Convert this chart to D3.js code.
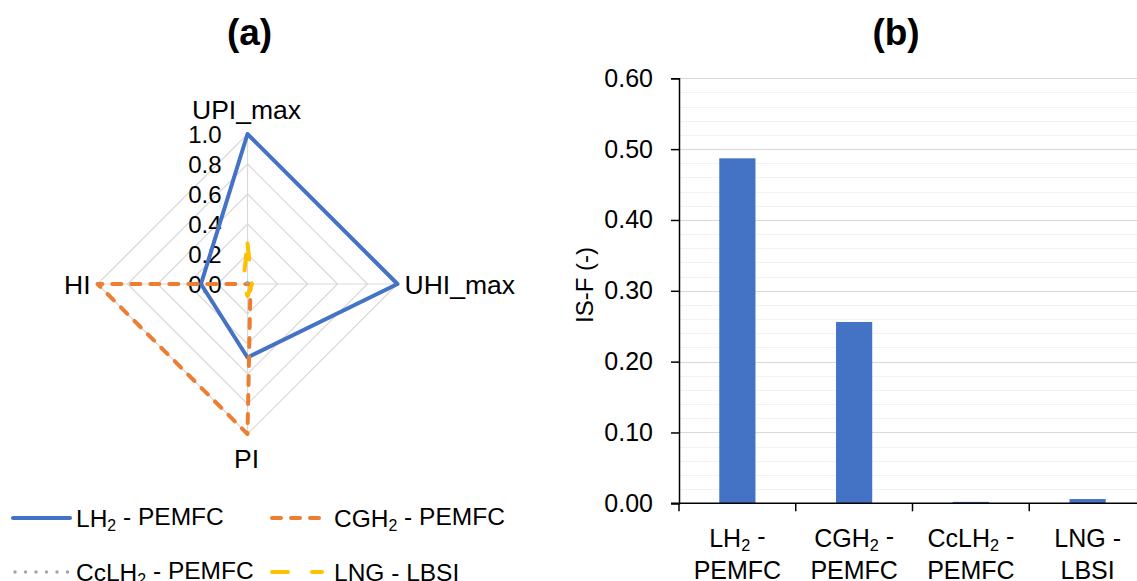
<!DOCTYPE html>
<html>
<head>
<meta charset="utf-8">
<script src="https://cdn.jsdelivr.net/npm/d3@7"></script>
<style>
  html, body {margin:0; padding:0; background:#fff;}
  svg {display:block; font-family:"Liberation Sans", Arial, sans-serif;}
</style>
</head>
<body>
<div id="fig"></div>
<script>
(function() {
"use strict";

var radarAxes = ["UPI_max", "UHI_max", "PI", "HI"];
var radarTicks = [0, 0.2, 0.4, 0.6, 0.8, 1.0];
var seriesNames = ["LH₂ - PEMFC", "CGH₂ - PEMFC", "CcLH₂ - PEMFC", "LNG - LBSI"];
var lh2Vals = [1.0, 1.0, 0.49, 0.31];
var cgh2Vals = [0.0, 0.02, 1.0, 1.0];
var cclh2Vals = [0.01, 0.01, 0.01, 0.01];
var lngVals = [0.27, 0.03, 0.08, 0.03];

var barCats = ["LH2-PEMFC", "CGH2-PEMFC", "CcLH2-PEMFC", "LNG-LBSI"];
var barLabels = [["LH₂ -", "PEMFC"], ["CGH₂ -", "PEMFC"], ["CcLH₂ -", "PEMFC"], ["LNG -", "LBSI"]];
var isfVals = [0.487, 0.256, 0.002, 0.006];
var isfTicks = [0, 0.1, 0.2, 0.3, 0.4, 0.5, 0.6];

var W = 1137, H = 581;
var styles = [
  {color:"#4472C4", dash:null, width:4},
  {color:"#ED7D31", dash:"9,10", width:4},
  {color:"#A5A5A5", dash:"0,10.5", width:3.5},
  {color:"#FFC000", dash:"16,24", width:4}
];

var svg = d3.select("#fig").append("svg")
  .attr("width", W)
  .attr("height", H);
svg.append("rect").attr("width", W).attr("height", H).attr("fill", "#fff");

// text with ₂ rendered as a real subscript
function subText(sel, str) {
  var parts = str.split("₂");
  parts.forEach(function(p, i) {
    if (i > 0) {
      sel.append("tspan").attr("font-size", "0.65em").attr("dy", "0.25em").text("2");
      sel.append("tspan").attr("dy", "-0.25em").text(p);
    } else {
      sel.append("tspan").text(p);
    }
  });
}

/* ---- (a) radar ---- */
var cx = 247.5, cy = 284, R = 150;
var r = d3.scaleLinear().domain([0, 1]).range([0, R]);
var ang = d3.scaleOrdinal().domain(radarAxes).range([-90, 0, 90, 180]);
function pt(axis, v) {
  var a = ang(axis) * Math.PI / 180;
  return [cx + r(v) * Math.cos(a), cy + r(v) * Math.sin(a)];
}

svg.append("text")
  .attr("x", 249.5).attr("y", 45)
  .attr("text-anchor", "middle")
  .attr("font-size", 37).attr("font-weight", "bold")
  .text("(a)");

var grid = svg.append("g").attr("class", "radar-grid");
grid.selectAll("path.ring")
  .data(radarTicks.filter(function(t) {return t > 0;}))
  .enter()
  .append("path")
  .attr("class", "ring")
  .attr("d", function(t) {
    return d3.line().curve(d3.curveLinearClosed)(radarAxes.map(function(a) {return pt(a, t);}));
  })
  .attr("fill", "none")
  .attr("stroke", "#D9D9D9")
  .attr("stroke-width", 1.2);
grid.selectAll("line.spoke")
  .data(radarAxes)
  .enter()
  .append("line")
  .attr("class", "spoke")
  .attr("x1", cx).attr("y1", cy)
  .attr("x2", function(a) {return pt(a, 1)[0];})
  .attr("y2", function(a) {return pt(a, 1)[1];})
  .attr("stroke", "#D9D9D9")
  .attr("stroke-width", 1.2);

svg.append("g").selectAll("text")
  .data(radarTicks)
  .enter()
  .append("text")
  .attr("x", cx - 26)
  .attr("y", function(t) {return cy - r(t);})
  .attr("dy", "0.36em")
  .attr("text-anchor", "end")
  .attr("font-size", 24)
  .attr("fill", "#000")
  .text(d3.format(".1f"));

var series = [lh2Vals, cgh2Vals, cclh2Vals, lngVals];
svg.append("g").selectAll("path")
  .data(series)
  .enter()
  .append("path")
  .attr("d", function(vals) {
    return d3.line().curve(d3.curveLinearClosed)(radarAxes.map(function(a, i) {return pt(a, vals[i]);}));
  })
  .attr("fill", "none")
  .attr("stroke", function(d, i) {return styles[i].color;})
  .attr("stroke-width", function(d, i) {return styles[i].width;})
  .attr("stroke-dasharray", function(d, i) {return styles[i].dash;})
  .attr("stroke-linecap", function(d, i) {return i === 0 ? "butt" : "round";})
  .attr("stroke-linejoin", "round");

var axLab = [
  {x:cx - 1, y:cy - R - 15, anchor:"middle"},
  {x:cx + R + 7, y:cy + 9.5, anchor:"start"},
  {x:cx - 1, y:cy + R + 34, anchor:"middle"},
  {x:cx - R - 7, y:cy + 9.5, anchor:"end"}
];
svg.append("g").selectAll("text")
  .data(radarAxes)
  .enter()
  .append("text")
  .attr("x", function(d, i) {return axLab[i].x;})
  .attr("y", function(d, i) {return axLab[i].y;})
  .attr("text-anchor", function(d, i) {return axLab[i].anchor;})
  .attr("font-size", 26.5)
  .text(function(d) {return d;});

// legend
var leg = svg.append("g").attr("class", "legend");
var legPos = [[13, 518], [270, 518], [13, 572], [270, 572]];
var legItem = leg.selectAll("g")
  .data(seriesNames)
  .enter()
  .append("g")
  .attr("transform", function(d, i) {return "translate(" + legPos[i][0] + "," + legPos[i][1] + ")";});
legItem.append("line")
  .attr("x1", function(d, i) {return i === 0 ? 0 : 2;})
  .attr("x2", function(d, i) {return i % 2 === 0 ? 57 : 52;})
  .attr("y1", 0).attr("y2", 0)
  .attr("stroke", function(d, i) {return styles[i].color;})
  .attr("stroke-width", function(d, i) {return styles[i].width;})
  .attr("stroke-dasharray", function(d, i) {return styles[i].dash;})
  .attr("stroke-linecap", "round");
legItem.append("text")
  .attr("x", function(d, i) {return i % 2 === 0 ? 63 : 64;})
  .attr("y", 9)
  .attr("font-size", 24.5)
  .each(function(d) {subText(d3.select(this), d);});

/* ---- (b) bar chart ---- */
var x0 = 679, x1 = 1146, yTop = 78.3, yBot = 503.3;
var xBand = d3.scaleBand().domain(barCats).range([x0, x1]).paddingInner(0.69).paddingOuter(0.345);
var xCat = d3.scaleBand().domain(barCats).range([x0, x1]);
var y = d3.scaleLinear().domain([0, 0.6]).range([yBot, yTop]);

svg.append("text")
  .attr("x", 896).attr("y", 45)
  .attr("text-anchor", "middle")
  .attr("font-size", 37).attr("font-weight", "bold")
  .text("(b)");

svg.append("g").selectAll("line")
  .data(d3.range(0.02, 0.601, 0.02).filter(function(v) {return Math.abs(v * 10 - Math.round(v * 10)) > 0.01;}))
  .enter()
  .append("line")
  .attr("x1", x0).attr("x2", x1)
  .attr("y1", function(v) {return Math.round(y(v)) + 0.5;})
  .attr("y2", function(v) {return Math.round(y(v)) + 0.5;})
  .attr("stroke", "#F2F2F2")
  .attr("stroke-width", 1);
svg.append("g").selectAll("line")
  .data(isfTicks.slice(1))
  .enter()
  .append("line")
  .attr("x1", x0).attr("x2", x1)
  .attr("y1", function(v) {return Math.round(y(v)) + 0.5;})
  .attr("y2", function(v) {return Math.round(y(v)) + 0.5;})
  .attr("stroke", "#D9D9D9")
  .attr("stroke-width", 1);

svg.append("g").selectAll("rect")
  .data(isfVals)
  .enter()
  .append("rect")
  .attr("x", function(d, i) {return xBand(barCats[i]);})
  .attr("width", xBand.bandwidth())
  .attr("y", function(d) {return y(d);})
  .attr("height", function(d) {return yBot - y(d);})
  .attr("fill", "#4472C4");

var yAxis = svg.append("g")
  .attr("transform", "translate(" + x0 + ",0)")
  .call(d3.axisLeft(y).tickValues(isfTicks).tickFormat(d3.format(".2f")).tickSize(8).tickPadding(18));
yAxis.select(".domain").attr("stroke", "#000").attr("stroke-width", 1.5);
yAxis.selectAll(".tick line").attr("stroke", "#000").attr("stroke-width", 1.5);
yAxis.selectAll(".tick text")
  .attr("font-size", 25)
  .attr("font-family", "Liberation Sans, Arial, sans-serif")
  .attr("fill", "#000");

var xAxis = svg.append("g").attr("class", "x-axis");
xAxis.append("line")
  .attr("x1", x0 - 8).attr("x2", x1)
  .attr("y1", yBot).attr("y2", yBot)
  .attr("stroke", "#000").attr("stroke-width", 1.5);
xAxis.selectAll("line.tk")
  .data(barCats)
  .enter()
  .append("line")
  .attr("class", "tk")
  .attr("x1", function(d) {return xCat(d);})
  .attr("x2", function(d) {return xCat(d);})
  .attr("y1", yBot).attr("y2", yBot + 8)
  .attr("stroke", "#000").attr("stroke-width", 1.5);
var xl = xAxis.selectAll("g.lab")
  .data(barCats)
  .enter()
  .append("g")
  .attr("class", "lab");
xl.append("text")
  .attr("x", function(d) {return xCat(d) + xCat.bandwidth() / 2;})
  .attr("y", 547)
  .attr("text-anchor", "middle")
  .attr("font-size", 25)
  .each(function(d, i) {subText(d3.select(this), barLabels[i][0]);});
xl.append("text")
  .attr("x", function(d) {return xCat(d) + xCat.bandwidth() / 2;})
  .attr("y", 579)
  .attr("text-anchor", "middle")
  .attr("font-size", 25)
  .text(function(d, i) {return barLabels[i][1];});

svg.append("text")
  .attr("transform", "translate(593,285) rotate(-90)")
  .attr("text-anchor", "middle")
  .attr("font-size", 24)
  .text("IS-F (-)");
})();
</script>
</body>
</html>
